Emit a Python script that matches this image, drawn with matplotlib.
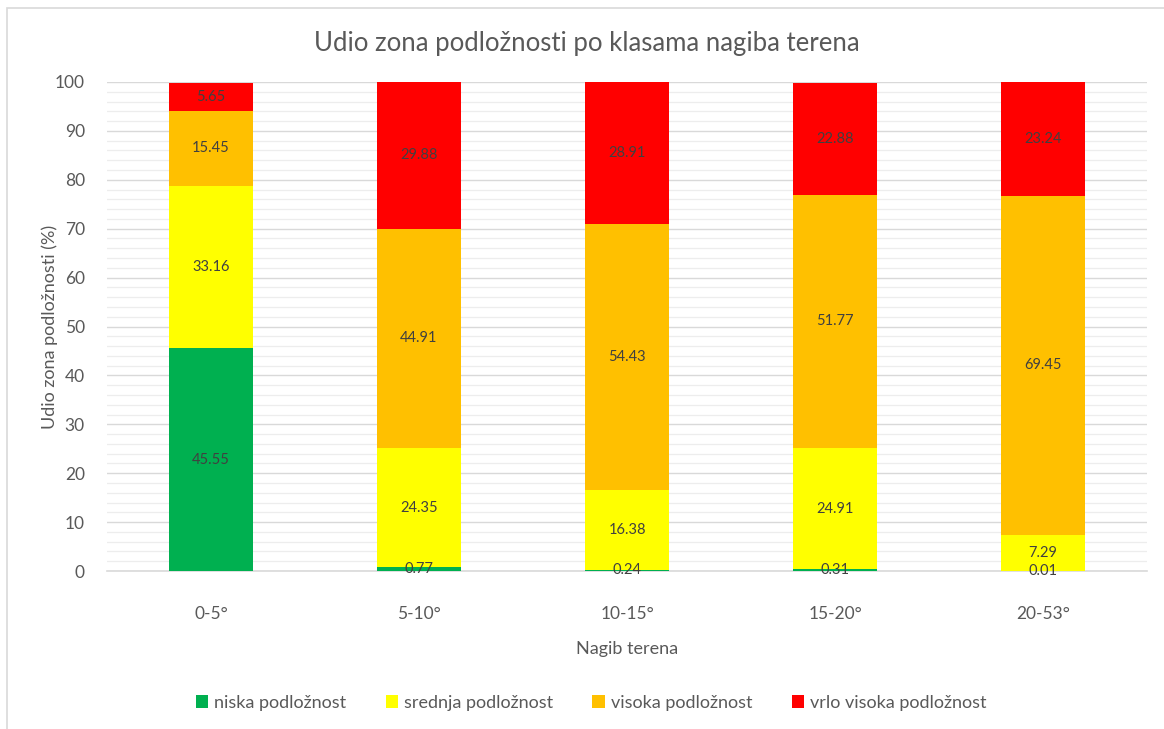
import matplotlib
matplotlib.use("Agg")
import matplotlib.pyplot as plt
from matplotlib.patches import Rectangle, Patch
from matplotlib.ticker import MultipleLocator
import numpy as np

plt.rcParams['font.family'] = ['Lato', 'DejaVu Sans']

categories = ["0-5°", "5-10°", "10-15°", "15-20°", "20-53°"]
series_names = ["niska podložnost", "srednja podložnost",
                "visoka podložnost", "vrlo visoka podložnost"]
niska = [45.55, 0.77, 0.24, 0.31, 0.01]
srednja = [33.16, 24.35, 16.38, 24.91, 7.29]
visoka = [15.45, 44.91, 54.43, 51.77, 69.45]
vrlo_visoka = [5.65, 29.88, 28.91, 22.88, 23.24]
colors = ["#00B050", "#FFFF00", "#FFC000", "#FF0000"]

title = "Udio zona podložnosti po klasama nagiba terena"
xlabel = "Nagib terena"
ylabel = "Udio zona podložnosti (%)"

W, H = 1164, 729
fig = plt.figure(figsize=(W / 100, H / 100), dpi=100)

# outer chart frame
fig.patches.append(Rectangle((7 / W, -0.02), 1.05, (H - 8) / H + 0.02,
                             transform=fig.transFigure, fill=False,
                             edgecolor="#D9D9D9", linewidth=1.2))

ax = fig.add_axes([107 / W, (H - 571) / H, 1040 / W, 489 / H])

x = np.arange(len(categories))
bottom = np.zeros(len(categories))
text_color = "#404040"
for name, vals, col in zip(series_names, [niska, srednja, visoka, vrlo_visoka], colors):
    vals = np.array(vals)
    ax.bar(x, vals, width=0.4, bottom=bottom, color=col, label=name, zorder=3)
    for xi, b, v in zip(x, bottom, vals):
        ax.text(xi, b + v / 2, f"{v:.2f}", ha="center", va="center",
                fontsize=10.5, color=text_color, zorder=4)
    bottom += vals

ax.set_xlim(-0.5, len(categories) - 0.5)
ax.set_ylim(0, 100)
ax.yaxis.set_major_locator(MultipleLocator(10))
ax.yaxis.set_minor_locator(MultipleLocator(2))
ax.grid(axis="y", which="major", color="#D9D9D9", linewidth=1.0, zorder=0)
ax.grid(axis="y", which="minor", color="#EDEDED", linewidth=0.9, zorder=0)
ax.set_axisbelow(True)
for s in ["top", "right", "left"]:
    ax.spines[s].set_visible(False)
ax.spines["bottom"].set_color("#D9D9D9")
ax.spines["bottom"].set_linewidth(1.2)
ax.tick_params(axis="both", which="both", length=0, colors="#595959", labelsize=12.5)
ax.tick_params(axis="y", pad=16)
ax.tick_params(axis="x", pad=25)
ax.set_xticks(x)
ax.set_xticklabels(categories)

ax.set_xlabel(xlabel, fontsize=13, color="#595959", labelpad=14)
ax.set_ylabel(ylabel, fontsize=13, color="#595959", labelpad=-2)

fig.text(587 / W, 1 - 43 / H, title, ha="center", va="center",
         fontsize=18.5, color="#595959")

handles = [Patch(facecolor=c, edgecolor="none") for c in colors]
fig.legend(handles, series_names, loc="center", bbox_to_anchor=(591 / W, 26 / H),
           ncol=4, frameon=False, fontsize=13, labelcolor="#595959",
           handlelength=0.7, handleheight=0.7, handletextpad=0.3, columnspacing=2.2)

fig.savefig("out.png", dpi=100)
